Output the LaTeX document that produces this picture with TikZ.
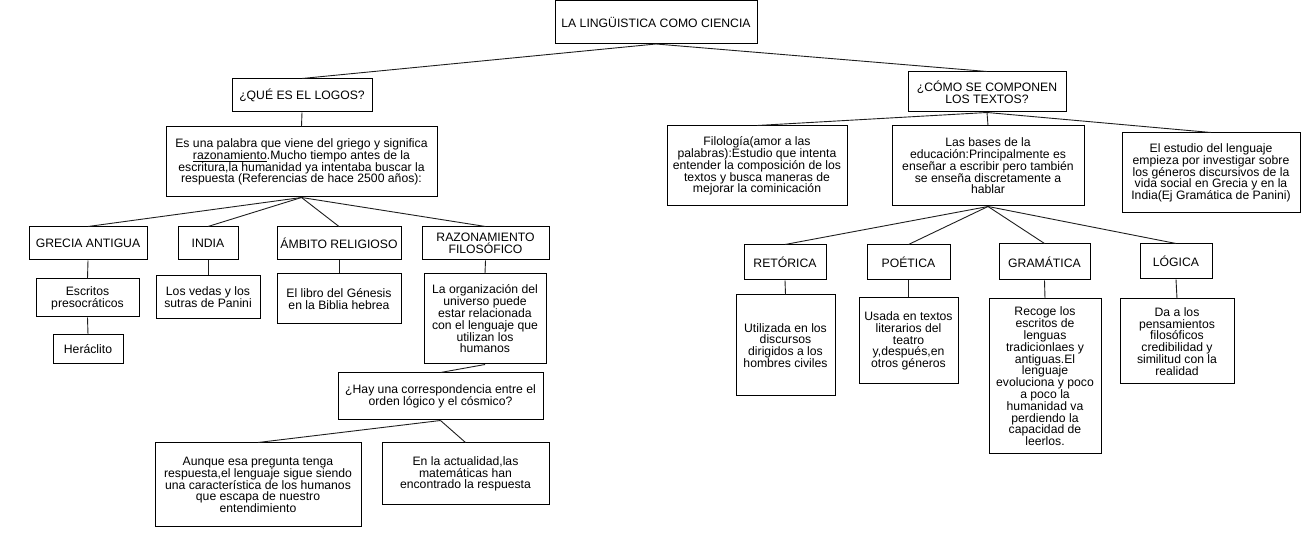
\documentclass[tikz,border=0pt]{standalone}
\usepackage{fontspec}
\setmainfont{Liberation Sans}
\definecolor{mapInk}{RGB}{0,0,0}
\definecolor{mapLine}{RGB}{30,30,30}

\begin{document}
\begin{tikzpicture}[x=1pt,y=1pt,
  cbox/.style={draw=mapInk,line width=1pt,inner sep=0pt,align=center,text=mapInk,
    font=\fontsize{12.2}{11.8}\selectfont},
  link/.style={draw=mapLine,line width=0.9pt}]
\useasboundingbox (0,0) rectangle (1302,533);
\node[cbox,minimum width=202,minimum height=43] (root) at (656.000,511.000) {LA LINGÜISTICA COMO CIENCIA};
\node[cbox,minimum width=140,minimum height=33] (logos) at (302.000,437.500) {¿QUÉ ES EL LOGOS?};
\node[cbox,minimum width=271,minimum height=70] (logosdef) at (301.500,371.000) {Es una palabra que viene del griego y significa\\\underline{razonamiento}.Mucho tiempo antes de la\\escritura,la humanidad ya intentaba buscar la\\respuesta (Referencias de hace 2500 años):};
\node[cbox,minimum width=118,minimum height=33] (grecia) at (88.000,289.500) {GRECIA ANTIGUA};
\node[cbox,minimum width=60,minimum height=33] (india) at (208.000,289.500) {INDIA};
\node[cbox,minimum width=124,minimum height=33] (ambito) at (339.000,289.500) {ÁMBITO RELIGIOSO};
\node[cbox,minimum width=127,minimum height=33] (razon) at (485.500,289.500) {RAZONAMIENTO\\FILOSÓFICO};
\node[cbox,minimum width=103,minimum height=38] (escritos) at (87.500,235.000) {Escritos\\presocráticos};
\node[cbox,minimum width=70,minimum height=29] (heraclito) at (88.000,183.500) {Heráclito};
\node[cbox,minimum width=104,minimum height=43] (vedas) at (208.000,235.500) {Los vedas y los\\sutras de Panini};
\node[cbox,minimum width=124,minimum height=50] (genesis) at (339.000,234.000) {El libro del Génesis\\en la Biblia hebrea};
\node[cbox,minimum width=122,minimum height=90] (universo) at (485.000,214.000) {La organización del\\universo puede\\estar relacionada\\con el lenguaje que\\utilizan los\\humanos};
\node[cbox,minimum width=205,minimum height=47] (orden) at (440.500,136.500) {¿Hay una correspondencia entre el\\orden lógico y el cósmico?};
\node[cbox,minimum width=206,minimum height=84] (aunque) at (258.000,48.000) {Aunque esa pregunta tenga\\respuesta,el lenguaje sigue siendo\\una característica de los humanos\\que escapa de nuestro\\entendimiento};
\node[cbox,minimum width=167,minimum height=62] (mates) at (465.500,59.000) {En la actualidad,las\\matemáticas han\\encontrado la respuesta};
\node[cbox,minimum width=158,minimum height=40] (textos) at (987.000,441.000) {¿CÓMO SE COMPONEN\\LOS TEXTOS?};
\node[cbox,minimum width=180,minimum height=80] (filologia) at (757.000,367.000) {Filología(amor a las\\palabras):Estudio que intenta\\entender la composición de los\\textos y busca maneras de\\mejorar la cominicación};
\node[cbox,minimum width=192,minimum height=80] (bases) at (988.000,367.000) {Las bases de la\\educación:Principalmente es\\enseñar a escribir pero también\\se enseña discretamente a\\hablar};
\node[cbox,minimum width=178,minimum height=80] (estudio) at (1211.000,360.000) {El estudio del lenguaje\\empieza por investigar sobre\\los géneros discursivos de la\\vida social en Grecia y en la\\India(Ej Gramática de Panini)};
\node[cbox,minimum width=82,minimum height=35] (retorica) at (785.000,270.500) {RETÓRICA};
\node[cbox,minimum width=83,minimum height=35] (poetica) at (908.500,270.500) {POÉTICA};
\node[cbox,minimum width=91,minimum height=36] (gramatica) at (1044.500,271.000) {GRAMÁTICA};
\node[cbox,minimum width=72,minimum height=35] (logica) at (1176.000,271.500) {LÓGICA};
\node[cbox,minimum width=99,minimum height=101] (civiles) at (785.500,187.500) {Utilizada en los\\discursos\\dirigidos a los\\hombres civiles};
\node[cbox,minimum width=99,minimum height=86] (teatro) at (908.500,192.000) {Usada en textos\\literarios del\\teatro\\y,después,en\\otros géneros};
\node[cbox,minimum width=112,minimum height=155] (lenguas) at (1045.000,156.500) {Recoge los\\escritos de\\lenguas\\tradicionlaes y\\antiguas.El\\lenguaje\\evoluciona y poco\\a poco la\\humanidad va\\perdiendo la\\capacidad de\\leerlos.};
\node[cbox,minimum width=114,minimum height=85] (realidad) at (1177.000,191.500) {Da a los\\pensamientos\\filosóficos\\credibilidad y\\similitud con la\\realidad};
\draw[link] (root.south) -- (logos.north);
\draw[link] (root.south) -- (textos.north);
\draw[link] (logos.south) -- (logosdef.north);
\foreach \kid in {grecia,india,ambito,razon}
  \draw[link] (logosdef.south) -- (\kid.north);
\draw[link] (grecia.south) -- (escritos.north);
\draw[link] (escritos.south) -- (heraclito.north);
\draw[link] (india.south) -- (vedas.north);
\draw[link] (ambito.south) -- (genesis.north);
\draw[link] (razon.south) -- (universo.north);
\draw[link] (universo.south) -- (orden.north);
\draw[link] (orden.south) -- (aunque.north);
\draw[link] (orden.south) -- (mates.north);
\foreach \kid in {filologia,bases,estudio}
  \draw[link] (textos.south) -- (\kid.north);
\foreach \kid in {retorica,poetica,gramatica,logica}
  \draw[link] (bases.south) -- (\kid.north);
\draw[link] (retorica.south) -- (civiles.north);
\draw[link] (poetica.south) -- (teatro.north);
\draw[link] (gramatica.south) -- (lenguas.north);
\draw[link] (logica.south) -- (realidad.north);
\end{tikzpicture}
\end{document}
